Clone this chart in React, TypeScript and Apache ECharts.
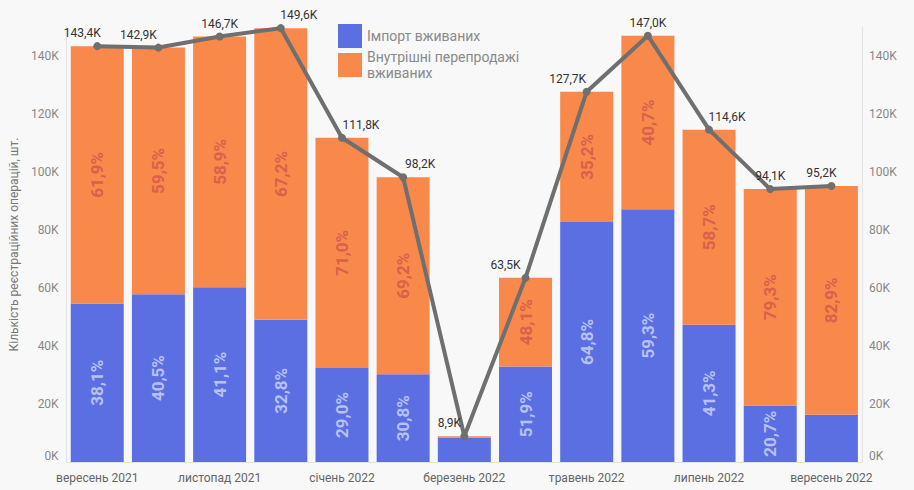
import React, { useEffect, useRef } from "react";
import * as echarts from "echarts";

const categories = [
  "вересень 2021", "жовтень 2021", "листопад 2021", "грудень 2021",
  "січень 2022", "лютий 2022", "березень 2022", "квітень 2022",
  "травень 2022", "червень 2022", "липень 2022", "серпень 2022", "вересень 2022",
];
// totals, thousands
const totalsK = [143.4, 142.9, 146.7, 149.6, 111.8, 98.2, 8.9, 63.5, 127.7, 147.0, 114.6, 94.1, 95.2];
// import share, %
const importShare = [38.1, 40.5, 41.1, 32.8, 29.0, 30.8, 95.0, 51.9, 64.8, 59.3, 41.3, 20.7, 17.1];
// which share labels are displayed
const showImportLabel = [1, 1, 1, 1, 1, 1, 0, 1, 1, 1, 1, 1, 0];
const showResaleLabel = [1, 1, 1, 1, 1, 1, 0, 1, 1, 1, 1, 1, 1];

// styling: horizontal shift of total labels
const totalLabelShift = [-15, -20, 0, 18, 19, 17, -15, -20, -19, 0, 18, 0, -10];

const fmtPct = (v: number) => v.toFixed(1).replace(".", ",") + "%";
const fmtK = (v: number) => (v / 1000).toFixed(1).replace(".", ",") + "K";

export default function App() {
  const ref = useRef<HTMLDivElement>(null);
  useEffect(() => {
    if (!ref.current) return;
    const chart = echarts.init(ref.current, undefined, { renderer: "svg" });
    const totals = totalsK.map((t) => t * 1000);
    const imports = totals.map((t, i) => (t * importShare[i]) / 100);
    const resales = totals.map((t, i) => t - imports[i]);

    const pctLabel = (color: string) => ({
      show: true,
      position: "inside",
      rotate: 90,
      color,
      fontSize: 17,
      fontWeight: "bold",
      fontFamily: "Roboto",
    });

    chart.setOption({
      animation: false,
      backgroundColor: "#f8f8f8",
      textStyle: { fontFamily: "Roboto" },
      grid: { left: 63, right: 52, top: 27, bottom: 28, containLabel: false },
      legend: {
        data: ["Імпорт вживаних", "Внутрішні перепродажі\nвживаних"],
        orient: "vertical",
        left: 333,
        top: 19,
        itemWidth: 24,
        itemHeight: 24,
        itemGap: 1,
        icon: "rect",
        textStyle: { color: "#8a8a8a", fontSize: 14, lineHeight: 16, fontFamily: "Roboto" },
      },
      xAxis: {
        type: "category",
        data: categories,
        axisTick: { show: false },
        axisLine: { lineStyle: { color: "#e2e2e2", width: 1 } },
        axisLabel: { interval: 1, color: "#666", fontSize: 12, margin: 10 },
      },
      yAxis: [
        {
          type: "value",
          min: 0,
          max: 150000,
          interval: 20000,
          name: "Кількість реєстраційних операцій, шт.",
          nameLocation: "middle",
          nameGap: 46,
          nameTextStyle: { color: "#777", fontSize: 12 },
          axisLine: { show: true, lineStyle: { color: "#e4e4e4" } },
          splitLine: { show: false },
          axisLabel: {
            color: "#888",
            fontSize: 12,
            margin: 8,
            showMaxLabel: false,
            verticalAlignMinLabel: "bottom",
            formatter: (v: number) => v / 1000 + "K",
          },
        },
        {
          type: "value",
          min: 0,
          max: 150000,
          interval: 20000,
          position: "right",
          axisLine: { show: true, lineStyle: { color: "#e4e4e4" } },
          splitLine: { show: false },
          axisLabel: {
            color: "#888",
            fontSize: 12,
            margin: 7,
            showMaxLabel: false,
            verticalAlignMinLabel: "bottom",
            formatter: (v: number) => v / 1000 + "K",
          },
        },
      ],
      series: [
        {
          name: "Імпорт вживаних",
          type: "bar",
          stack: "total",
          barWidth: 53,
          itemStyle: { color: "#5b6fe3" },
          data: imports.map((v, i) => ({
            value: v,
            label: { ...pctLabel("#b7c1f5"), show: !!showImportLabel[i], formatter: () => fmtPct(importShare[i]) },
          })),
        },
        {
          name: "Внутрішні перепродажі\nвживаних",
          type: "bar",
          stack: "total",
          barWidth: 53,
          itemStyle: { color: "#f9884b" },
          data: resales.map((v, i) => ({
            value: v,
            label: {
              ...pctLabel("#d9604b"),
              show: !!showResaleLabel[i],
              formatter: () => fmtPct(100 - importShare[i]),
            },
          })),
        },
        {
          name: "Всього",
          type: "line",
          symbol: "circle",
          symbolSize: 8,
          z: 5,
          lineStyle: { color: "#6f6f6f", width: 4 },
          itemStyle: { color: "#6f6f6f" },
          data: totals.map((v, i) => ({
            value: v,
            label: {
              show: true,
              position: "top",
              distance: 3,
              offset: [totalLabelShift[i], 0],
              color: "#333",
              fontSize: 12,
              formatter: () => fmtK(v),
            },
          })),
        },
      ],
    });
    return () => chart.dispose();
  }, []);
  return (
    <div
      ref={ref}
      style={{ position: "fixed", left: 0, top: 0, width: 914, height: 490 }}
    />
  );
}
